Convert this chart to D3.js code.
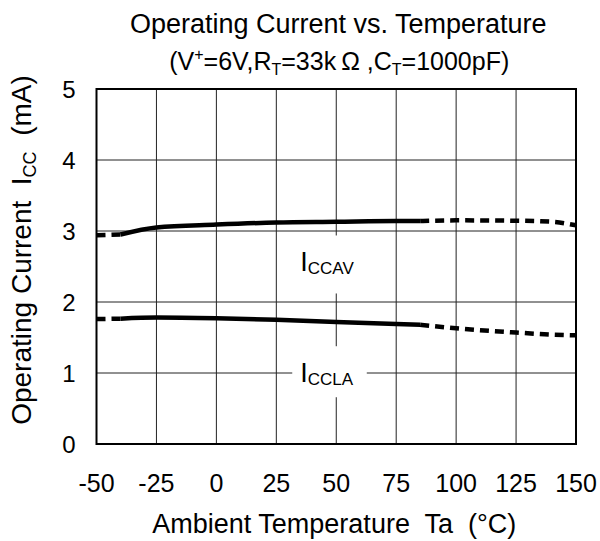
<!DOCTYPE html>
<html>
<head>
<meta charset="utf-8">
<script src="https://cdn.jsdelivr.net/npm/d3@7"></script>
<style>
  body { margin: 0; background: #fff; }
  text { font-family: "Liberation Sans", Arial, sans-serif; fill: #000; }
</style>
</head>
<body>
<div id="chart"></div>
<script>
// data
let temps = [-50, -40, -25, 0, 25, 50, 75, 85, 100, 125, 140, 150];
let iccav = [2.94, 2.95, 3.05, 3.09, 3.12, 3.13, 3.14, 3.14, 3.15, 3.145, 3.13, 3.08];
let iccla = [1.76, 1.765, 1.78, 1.77, 1.75, 1.72, 1.69, 1.68, 1.63, 1.57, 1.54, 1.53];
let xTicks = [-50, -25, 0, 25, 50, 75, 100, 125, 150];
let yTicks = [0, 1, 2, 3, 4, 5];
// measured range: dashed below -40 and above 85
let solidFrom = -40;
let solidTo = 85;

let width = 600;
let height = 541;
let margin = { top: 89, right: 24, bottom: 97, left: 96.5 };
let innerW = width - margin.left - margin.right;
let innerH = height - margin.top - margin.bottom;

let svg = d3
  .select("#chart")
  .append("svg")
  .attr("width", width)
  .attr("height", height);

let g = svg.append("g").attr("transform", `translate(${margin.left},${margin.top})`);

let x = d3.scaleLinear().domain([-50, 150]).range([0, innerW]);
let y = d3.scaleLinear().domain([0, 5]).range([innerH, 0]);

// grid
g.append("g")
  .attr("class", "grid")
  .selectAll("line.v")
  .data(xTicks)
  .enter()
  .append("line")
  .attr("x1", d => x(d))
  .attr("x2", d => x(d))
  .attr("y1", 0)
  .attr("y2", innerH);
g.select(".grid")
  .selectAll("line.h")
  .data(yTicks)
  .enter()
  .append("line")
  .attr("x1", 0)
  .attr("x2", innerW)
  .attr("y1", d => y(d))
  .attr("y2", d => y(d));
g.selectAll(".grid line").attr("stroke", "#222").attr("stroke-width", 1);

// label knock-outs (white boxes over grid)
let labels = [
  { main: "I", sub: "CCAV", t: 50, v: 2.43, padL: 6, padR: 6, padT: 12, padB: 15 },
  { main: "I", sub: "CCLA", t: 50, v: 0.87, padL: 8, padR: 13, padT: 12, padB: 8 }
];

// curves
let pts = s => temps.map((t, i) => ({ t: t, v: s[i] }));
let line = d3
  .line()
  .x(d => x(d.t))
  .y(d => y(d.v))
  .curve(d3.curveMonotoneX);

[iccav, iccla].forEach(s => {
  let p = pts(s);
  let left = p.filter(d => d.t <= solidFrom);
  let mid = p.filter(d => d.t >= solidFrom && d.t <= solidTo);
  let right = p.filter(d => d.t >= solidTo);
  [left, right].forEach(seg => {
    g.append("path")
      .datum(seg)
      .attr("d", line)
      .attr("fill", "none")
      .attr("stroke", "#000")
      .attr("stroke-width", 4.5)
      .attr("stroke-dasharray", "9,6");
  });
  g.append("path")
    .datum(mid)
    .attr("d", line)
    .attr("fill", "none")
    .attr("stroke", "#000")
    .attr("stroke-width", 4.5);
});

labels.forEach(l => {
  let t = g.append("text")
    .attr("x", x(l.t) - 36)
    .attr("y", y(l.v))
    .style("font-size", "27px");
  t.append("tspan").text(l.main);
  t.append("tspan").attr("dy", 3).style("font-size", "17px").text(l.sub);
  let b = t.node().getBBox();
  g.insert("rect", "text")
    .attr("x", b.x - l.padL)
    .attr("y", b.y - l.padT)
    .attr("width", b.width + l.padL + l.padR)
    .attr("height", b.height + l.padT + l.padB)
    .attr("fill", "#fff");
});

// frame
g.append("rect")
  .attr("width", innerW)
  .attr("height", innerH)
  .attr("fill", "none")
  .attr("stroke", "#000")
  .attr("stroke-width", 2);

// tick labels
g.selectAll("text.xt")
  .data(xTicks)
  .enter()
  .append("text")
  .attr("x", d => x(d))
  .attr("y", innerH + 48)
  .attr("text-anchor", "middle")
  .style("font-size", "25px")
  .text(d => d);

g.selectAll("text.yt")
  .data(yTicks)
  .enter()
  .append("text")
  .attr("x", -21)
  .attr("y", d => y(d) + 8.5)
  .attr("text-anchor", "end")
  .style("font-size", "24px")
  .text(d => d);

// titles
let cx = margin.left + innerW / 2;
svg.append("text")
  .attr("x", cx + 2)
  .attr("y", 33)
  .attr("text-anchor", "middle")
  .style("font-size", "27px")
  .text("Operating Current vs. Temperature");

let sub = svg.append("text")
  .attr("x", cx + 3)
  .attr("y", 70)
  .attr("text-anchor", "middle")
  .style("font-size", "25px");
sub.append("tspan").text("(V");
sub.append("tspan").attr("dy", -10).style("font-size", "16px").text("+");
sub.append("tspan").attr("dy", 10).text("=6V,R");
sub.append("tspan").attr("dy", 5).style("font-size", "16px").text("T");
sub.append("tspan").attr("dy", -5).text("=33k\u2009\u03A9 ,C");
sub.append("tspan").attr("dy", 5).style("font-size", "16px").text("T");
sub.append("tspan").attr("dy", -5).text("=1000pF)");

svg.append("text")
  .attr("x", cx - 2)
  .attr("y", 533)
  .attr("text-anchor", "middle")
  .style("font-size", "27px")
  .attr("xml:space", "preserve")
  .text("Ambient Temperature  Ta  (\u00B0C)");

let yl = svg.append("text")
  .attr("transform", `translate(31,250) rotate(-90)`)
  .attr("text-anchor", "middle")
  .attr("xml:space", "preserve")
  .style("font-size", "28px");
yl.append("tspan").text("Operating Current  I");
yl.append("tspan").attr("dy", 5).style("font-size", "18px").text("CC");
yl.append("tspan").attr("dy", -5).text("  (mA)");
</script>
</body>
</html>
